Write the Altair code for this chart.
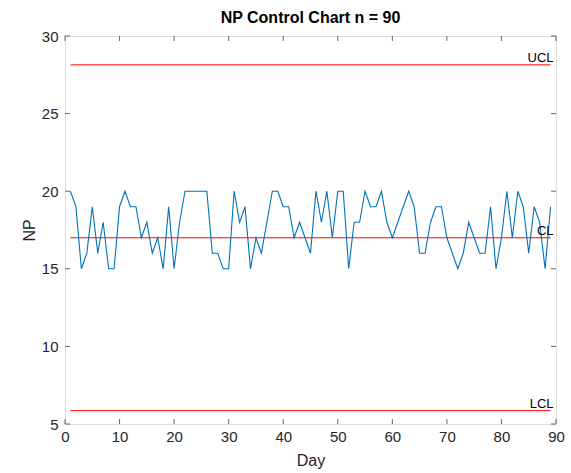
import altair as alt
import pandas as pd

days = list(range(1, 90))
np_values = [20, 19, 15, 16, 19, 16, 18, 15, 15, 19,
             20, 19, 19, 17, 18, 16, 17, 15, 19, 15,
             18, 20, 20, 20, 20, 20, 16, 16, 15, 15,
             20, 18, 19, 15, 17, 16, 18, 20, 20, 19,
             19, 17, 18, 17, 16, 20, 18, 20, 17, 20,
             20, 15, 18, 18, 20, 19, 19, 20, 18, 17,
             18, 19, 20, 19, 16, 16, 18, 19, 19, 17,
             16, 15, 16, 18, 17, 16, 16, 19, 15, 17,
             20, 17, 20, 19, 16, 19, 18, 15, 19]
limit_names = ["UCL", "CL", "LCL"]
limit_values = [28.14, 17.0, 5.86]
x_ticks = [0, 10, 20, 30, 40, 50, 60, 70, 80, 90]
y_ticks = [5, 10, 15, 20, 25, 30]

FONT = "Liberation Sans"
AX = "#262626"

df = pd.DataFrame({"Day": days, "NP": np_values})
lim = pd.DataFrame({"name": limit_names, "value": limit_values,
                    "x1": [days[0]] * 3, "x2": [days[-1]] * 3})
xt = pd.DataFrame({"t": x_ticks})
yt = pd.DataFrame({"t": y_ticks})

xscale = alt.Scale(domain=[0, 90], nice=False, zero=False)
yscale = alt.Scale(domain=[5, 30], nice=False, zero=False)

xaxis = alt.Axis(values=x_ticks, title="Day", domain=False, ticks=False, grid=False,
                 labelFlush=False, labelOverlap=False,
                 labelFont=FONT, labelFontSize=15, labelColor=AX, labelPadding=5,
                 titleFont=FONT, titleFontSize=16, titleFontWeight="normal",
                 titleColor=AX, titlePadding=8)
yaxis = alt.Axis(values=y_ticks, title="NP", domain=False, ticks=False, grid=False,
                 labelFlush=False, labelOverlap=False,
                 labelFont=FONT, labelFontSize=15, labelColor=AX, labelPadding=7,
                 titleFont=FONT, titleFontSize=16, titleFontWeight="normal",
                 titleColor=AX, titlePadding=4)

line = alt.Chart(df).mark_line(color="#0072BD", strokeWidth=1.1).encode(
    x=alt.X("Day:Q", scale=xscale, axis=xaxis),
    y=alt.Y("NP:Q", scale=yscale, axis=yaxis),
)

rules = alt.Chart(lim).mark_rule(color="#ff0000", strokeWidth=1).encode(
    x=alt.X("x1:Q", scale=xscale),
    x2="x2:Q",
    y=alt.Y("value:Q", scale=yscale),
)

labels = alt.Chart(lim).mark_text(
    align="right", baseline="bottom", font=FONT, fontSize=13, color="#000000", dx=3, dy=0
).encode(
    x=alt.X("x2:Q", scale=xscale),
    y=alt.Y("value:Q", scale=yscale),
    text="name:N",
)

tick_len = 5
bottom_ticks = alt.Chart(xt).mark_tick(orient="vertical", size=tick_len, thickness=1,
                                       color=AX, yOffset=-tick_len / 2).encode(
    x=alt.X("t:Q", scale=xscale), y=alt.datum(5, scale=yscale))
top_ticks = alt.Chart(xt).mark_tick(orient="vertical", size=tick_len, thickness=1,
                                    color=AX, yOffset=tick_len / 2).encode(
    x=alt.X("t:Q", scale=xscale), y=alt.datum(30, scale=yscale))
left_ticks = alt.Chart(yt).mark_tick(orient="horizontal", size=tick_len, thickness=1,
                                     color=AX, xOffset=tick_len / 2).encode(
    y=alt.Y("t:Q", scale=yscale), x=alt.datum(0, scale=xscale))
right_ticks = alt.Chart(yt).mark_tick(orient="horizontal", size=tick_len, thickness=1,
                                      color=AX, xOffset=-tick_len / 2).encode(
    y=alt.Y("t:Q", scale=yscale), x=alt.datum(90, scale=xscale))

chart = alt.layer(
    bottom_ticks, top_ticks, left_ticks, right_ticks, rules, line, labels
).properties(
    width=491, height=388,
    title=alt.TitleParams("NP Control Chart n = 90", font=FONT, fontSize=16,
                          fontWeight="bold", color="#000000", anchor="middle", offset=3),
    autosize=alt.AutoSizeParams(type="none"),
    padding={"left": 65, "top": 36, "right": 15, "bottom": 49},
).configure_view(stroke=AX, strokeWidth=1).configure(background="white")

chart.save("out.html", embed_options={"renderer": "svg", "actions": False})
